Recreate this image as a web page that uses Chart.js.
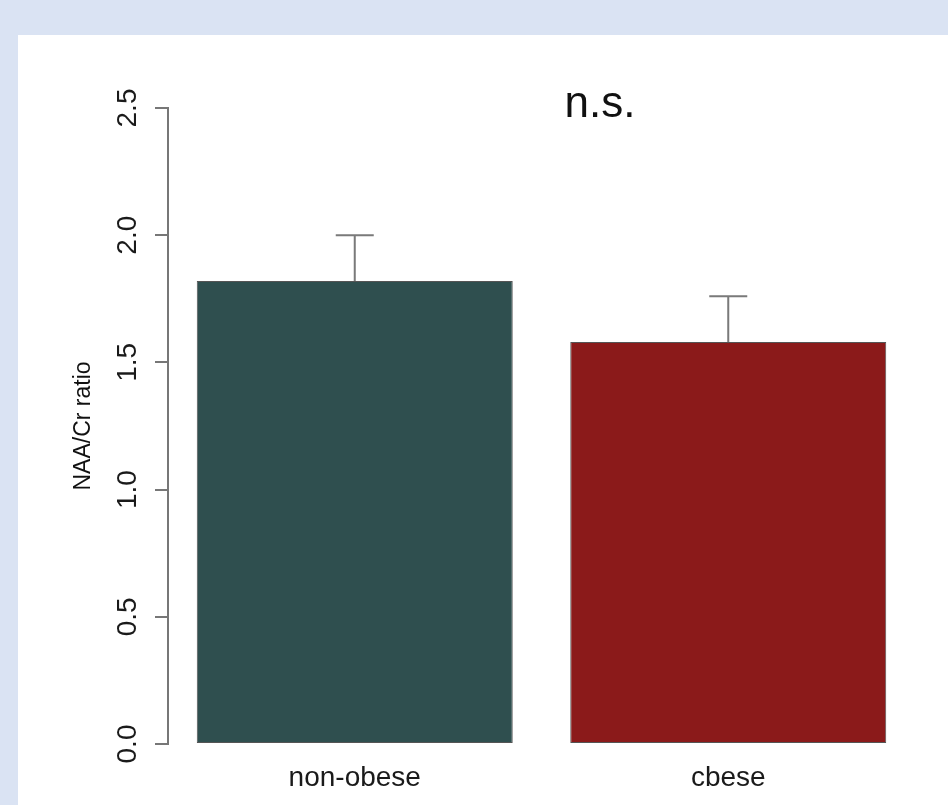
<!DOCTYPE html>
<html>
<head>
<meta charset="utf-8">
<script src="https://cdn.jsdelivr.net/npm/chart.js@4.4.1/dist/chart.umd.min.js"></script>
<style>
  html, body { margin: 0; padding: 0; }
  body { width: 948px; height: 805px; background: #dae3f3; position: relative; overflow: hidden; }
  #panel { position: absolute; left: 18px; top: 35px; width: 930px; height: 770px; background: #ffffff; }
  canvas { display: block; }
</style>
</head>
<body>
<div id="panel"><canvas id="c" width="930" height="770"></canvas></div>
<script>
// Group means and standard errors of the NAA/Cr ratio
const groups = ['non-obese', 'cbese'];
const meanRatio = [1.82, 1.58];
const seRatio = [0.18, 0.18];
const barColors = ['#2F4F4F', '#8B1A1A'];
const yTicks = [0, 0.5, 1.0, 1.5, 2.0, 2.5];
const sigLabel = 'n.s.';

const FONT = '"Liberation Sans", Arial, Helvetica, sans-serif';

// upward-only error bars with a short cap
const errorBars = {
  id: 'errorBars',
  afterDatasetsDraw(chart) {
    const meta = chart.getDatasetMeta(0);
    const y = chart.scales.y;
    const ctx = chart.ctx;
    ctx.save();
    ctx.strokeStyle = '#7a7a7a';
    ctx.lineWidth = 2;
    meta.data.forEach((bar, i) => {
      const yBase = y.getPixelForValue(meanRatio[i]);
      const yTop = y.getPixelForValue(meanRatio[i] + seRatio[i]);
      ctx.beginPath();
      ctx.moveTo(bar.x, yBase);
      ctx.lineTo(bar.x, yTop);
      ctx.moveTo(bar.x - 19, yTop);
      ctx.lineTo(bar.x + 19, yTop);
      ctx.stroke();
    });
    ctx.restore();
  }
};

// significance note above the bars
const sigNote = {
  id: 'sigNote',
  afterDraw(chart) {
    const a = chart.chartArea;
    const ctx = chart.ctx;
    ctx.save();
    ctx.font = '44px ' + FONT;
    ctx.fillStyle = '#111111';
    ctx.textAlign = 'center';
    ctx.textBaseline = 'alphabetic';
    ctx.fillText(sigLabel, a.left + 432, a.top + 9);
    ctx.restore();
  }
};

new Chart(document.getElementById('c'), {
  type: 'bar',
  data: {
    labels: groups,
    datasets: [{
      data: meanRatio,
      backgroundColor: barColors,
      borderColor: '#555555',
      borderWidth: 1,
      borderSkipped: false,
      categoryPercentage: 1.0,
      barPercentage: 0.846
    }]
  },
  options: {
    responsive: false,
    devicePixelRatio: 1,
    animation: false,
    layout: { padding: { top: 73, right: 33, left: 0, bottom: 0 } },
    plugins: {
      legend: { display: false },
      tooltip: { enabled: false },
      title: { display: false }
    },
    scales: {
      x: {
        afterFit: (s) => { s.height = 61; },
        grid: { display: false, drawTicks: false },
        border: { display: false },
        ticks: {
          font: { family: FONT, size: 28 },
          color: '#1a1a1a',
          padding: 17
        }
      },
      y: {
        min: 0,
        max: 2.5,
        afterBuildTicks: (s) => { s.ticks = yTicks.map(v => ({ value: v })); },
        afterFit: (s) => { s.width = 150; },
        grid: { drawOnChartArea: false, tickLength: 13, color: '#777777', lineWidth: 2 },
        border: { display: true, color: '#777777', width: 2 },
        ticks: {
          minRotation: 90,
          maxRotation: 90,
          crossAlign: 'center',
          padding: 7,
          font: { family: FONT, size: 28 },
          color: '#1a1a1a',
          callback: (v) => Number(v).toFixed(1)
        },
        title: {
          display: true,
          text: 'NAA/Cr ratio',
          font: { family: FONT, size: 23 },
          color: '#111111',
          padding: { top: 52, bottom: 0 }
        }
      }
    }
  },
  plugins: [errorBars, sigNote]
});
</script>
</body>
</html>
